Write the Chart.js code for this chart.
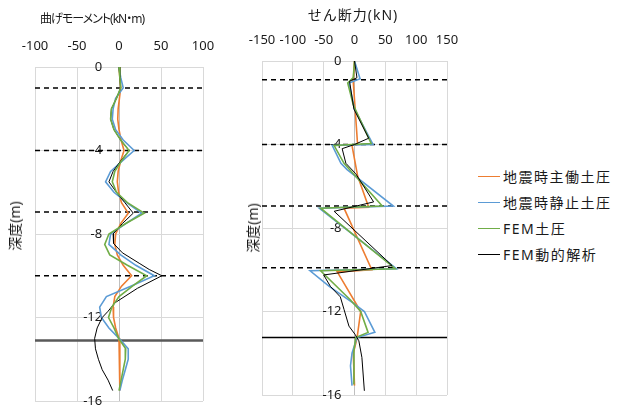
<!DOCTYPE html>
<html>
<head>
<meta charset="utf-8">
<script src="https://cdn.jsdelivr.net/npm/chart.js@4.4.1/dist/chart.umd.min.js"></script>
<style>
  html, body { margin: 0; padding: 0; background: #fff; }
  body { width: 627px; height: 405px; position: relative; overflow: hidden;
         font-family: "Noto Sans", "Noto Sans CJK JP", sans-serif; color: #1a1a1a; }
  canvas { position: absolute; top: 0; }
  #moment { left: 0; }
  #shear { left: 215px; }
  .title { position: absolute; white-space: nowrap; transform: translate(-50%, -50%); }
  .ytitle { position: absolute; white-space: nowrap; font-size: 14px;
            transform: translate(-50%, -50%) rotate(-90deg); }
  #legend { position: absolute; left: 478px; top: 163px; font-size: 14px; letter-spacing: 1.5px; }
  .item { height: 26px; display: flex; align-items: center; }
  .swatch { width: 22px; height: 0; border-top: 1.5px solid; margin-right: 3px; }
</style>
</head>
<body>
<canvas id="moment" width="215" height="405"></canvas>
<canvas id="shear" width="245" height="405"></canvas>
<div class="title" style="left:92px;top:18px;font-size:12px;letter-spacing:-1px;font-feature-settings:'palt'">曲げモーメント(kN・m)</div>
<div class="title" style="left:353px;top:14px;font-size:14px;letter-spacing:1px">せん断力(kN)</div>
<div class="ytitle" style="left:14px;top:226px">深度(m)</div>
<div class="ytitle" style="left:252px;top:228px">深度(m)</div>
<div id="legend"></div>

<script>
// 凡例・色
const seriesNames = ["地震時主働土圧", "地震時静止土圧", "FEM土圧", "FEM動的解析"];
const seriesColors = ["#ED7D31", "#5B9BD5", "#70AD47", "#000000"];

// 目盛
const depthTicks = [-16, -12, -8, -4, 0];
const momentTicks = [-100, -50, 0, 50, 100];
const shearTicks = [-150, -100, -50, 0, 50, 100, 150];

// 曲げモーメント (kN・m)
const momentDepth = [0, -0.5, -1, -1.5, -2, -2.5, -3, -3.5, -4, -4.5, -5, -5.5, -6, -6.5, -7, -7.5,
  -8, -8.5, -9, -9.5, -10, -10.5, -11, -11.5, -12, -12.5, -13, -13.5, -14, -14.5, -15, -15.5];
const momentActive = [0, 1, 2, 0.5, -1, -1.5, 0, 2.5, 6, 2, -1, -2, -0.5, 3, 11, 2,
  -4, -5, -2, 5, 15, 3, -5, -7, -6.5, -4, 0, 1, 1, 1, 1, 1];
const momentAtRest = [0, 2, 5, -4, -7, -8, -4, 5, 18, 4, -10, -16, -6, 9, 27, 8,
  -10, -12, 2, 20, 42, 14, -15, -23, -21, -12, 0, 11, 11, 7.5, 4, 1];
const momentFem = [0, 1, 2, -3, -9, -10, -6, 2, 12, 3, -5, -8, -3, 10, 30, 8,
  -12, -17, -11, 10, 33, 16, 0, -8.5, -12.5, -6, -0.5, 8, 7.5, 5, 2.5, 0];
const momentDynDepth = [0, -0.5, -1, -1.5, -2, -2.5, -3, -3.5, -4, -4.5, -5, -5.5, -6, -6.5, -7, -7.5,
  -8, -8.45, -8.9, -9.4, -9.7, -10, -10.6, -11.3, -11.7, -12, -12.5, -13, -13.5, -14, -14.5, -15, -15.5];
const momentDyn = [0, 1, 2, -3, -9, -10, -6, 2, 12, 2, -7, -12, -3, 7, 17, 4,
  -7, -6.5, 4, 24, 36, 51, 22, -5, -13, -20, -26, -29, -28, -24.5, -20, -13, -7.5];
const momentStrutDepth = [-1, -4, -6.95, -10];
const momentBaseDepth = -13.1;

// せん断力 (kN)
const shearActiveDepth = [0, -1, -4, -4.05, -5.5, -7, -7.05, -10, -10.1, -12, -13.3, -14, -15.55];
const shearActive = [0, -2, 5, -4, 5, 23, -17, 28, -28, 10, 4, -2, 0];
const shearAtRestDepth = [0, -0.85, -1.05, -2.3, -4, -4.05, -4.9, -5.2, -6.95, -7.05,
  -9.95, -10.05, -10.8, -11.6, -12, -13, -13.25, -14, -14.6, -15.55];
const shearAtRest = [0, 9, -9, 0, 30, -36, -22, -12, 63, -57,
  68, -72, -41, -2, 16, 33, 4, -4, -6.5, -4];
const shearFemDepth = [0, -0.8, -1.05, -2.1, -3.95, -4.05, -4.9, -6.95, -7.05,
  -9.95, -10.05, -11.45, -12, -13, -13.25, -13.9, -15.5];
const shearFem = [0, -2, -11, -2, 27, -33, -17, 45, -55, 66, -55, -6.5, 10, 22, 2, -1, -1];
const shearDynDepth = [0, -0.8, -0.97, -2.3, -3.7, -4, -4.2, -4.9, -5.4, -6.75, -7.2,
  -9.8, -10.25, -10.8, -11.3, -11.9, -12.7, -13.1, -13.4, -14.2, -15.8];
const shearDyn = [0, 4, -8, -1, 23, 0, -20, -14, 2, 31, -33,
  61, -50, -39, -23, -17, -9, 1, 7, 12, 16];
const shearStrutDepth = [-0.9, -4, -6.95, -9.9];
const shearBaseDepth = -13.25;

const GRID = "#d9d9d9";
const ZERO_LINE = "#bfbfbf";
Chart.defaults.font.family = '"Noto Sans", "Noto Sans CJK JP", sans-serif';
Chart.defaults.color = "#1a1a1a";

function profile(depths, values) {
  return depths.map((d, i) => ({ x: values[i], y: d }));
}

function seriesDatasets(pairs, orders) {
  return pairs.map(([d, v], i) => ({
    label: seriesNames[i],
    data: profile(d, v),
    borderColor: seriesColors[i],
    borderWidth: i === 3 ? 1 : 1.6,
    order: orders[i],
  }));
}

function levelLine(depth, ticks, style) {
  return Object.assign({
    data: [{ x: ticks[0], y: depth }, { x: ticks[ticks.length - 1], y: depth }],
    order: 10,
  }, style);
}

// labelAt: x value where the depth labels are anchored (just left of the zero line)
function makePanel(id, datasets, xTicks, pad, labelAt) {
  return new Chart(document.getElementById(id), {
    type: "line",
    data: { datasets },
    options: {
      responsive: false,
      animation: false,
      layout: { padding: pad },
      elements: { point: { radius: 0 }, line: { tension: 0, fill: false } },
      plugins: { legend: { display: false }, tooltip: { enabled: false } },
      scales: {
        x: {
          type: "linear",
          position: "top",
          min: xTicks[0],
          max: xTicks[xTicks.length - 1],
          afterBuildTicks: s => { s.ticks = xTicks.map(v => ({ value: v })); },
          afterFit: s => { s.paddingLeft = 0; s.paddingRight = 0; },
          grid: { color: ctx => (ctx.tick && ctx.tick.value === 0 ? ZERO_LINE : GRID), drawTicks: false },
          border: { color: GRID },
          ticks: { padding: 13, font: { size: 13 }, autoSkip: false, maxRotation: 0, minRotation: 0 },
        },
        y: {
          type: "linear",
          position: { x: labelAt },
          min: depthTicks[0],
          max: depthTicks[depthTicks.length - 1],
          afterBuildTicks: s => { s.ticks = depthTicks.map(v => ({ value: v })); },
          afterFit: s => { s.paddingTop = 0; s.paddingBottom = 0; },
          grid: { color: GRID, drawTicks: false },
          border: { display: false },
          ticks: { font: { size: 13 } },
        },
      },
    },
  });
}

const dashStyle = { borderColor: "#000", borderWidth: 1.5, borderDash: [5, 4] };

const momentSets = seriesDatasets([
  [momentDepth, momentActive],
  [momentDepth, momentAtRest],
  [momentDepth, momentFem],
  [momentDynDepth, momentDyn],
], [4, 3, 1, 2])
  .concat(momentStrutDepth.map(d => levelLine(d, momentTicks, dashStyle)))
  .concat([levelLine(momentBaseDepth, momentTicks, { borderColor: "#595959", borderWidth: 2.5 })]);

const shearSets = seriesDatasets([
  [shearActiveDepth, shearActive],
  [shearAtRestDepth, shearAtRest],
  [shearFemDepth, shearFem],
  [shearDynDepth, shearDyn],
], [4, 3, 2, 1])
  .concat(shearStrutDepth.map(d => levelLine(d, shearTicks, dashStyle)))
  .concat([levelLine(shearBaseDepth, shearTicks, { borderColor: "#000", borderWidth: 1.5 })]);

makePanel("moment", momentSets, momentTicks, { left: 35, right: 12, top: 25.4, bottom: 4 }, -20);
makePanel("shear", shearSets, shearTicks, { left: 47, right: 13, top: 19.4, bottom: 10 }, -21);

// 凡例
document.getElementById("legend").innerHTML = seriesNames.map((name, i) =>
  `<div class="item"><span class="swatch" style="border-color:${seriesColors[i]}"></span>${name}</div>`
).join("");
</script>
</body>
</html>
